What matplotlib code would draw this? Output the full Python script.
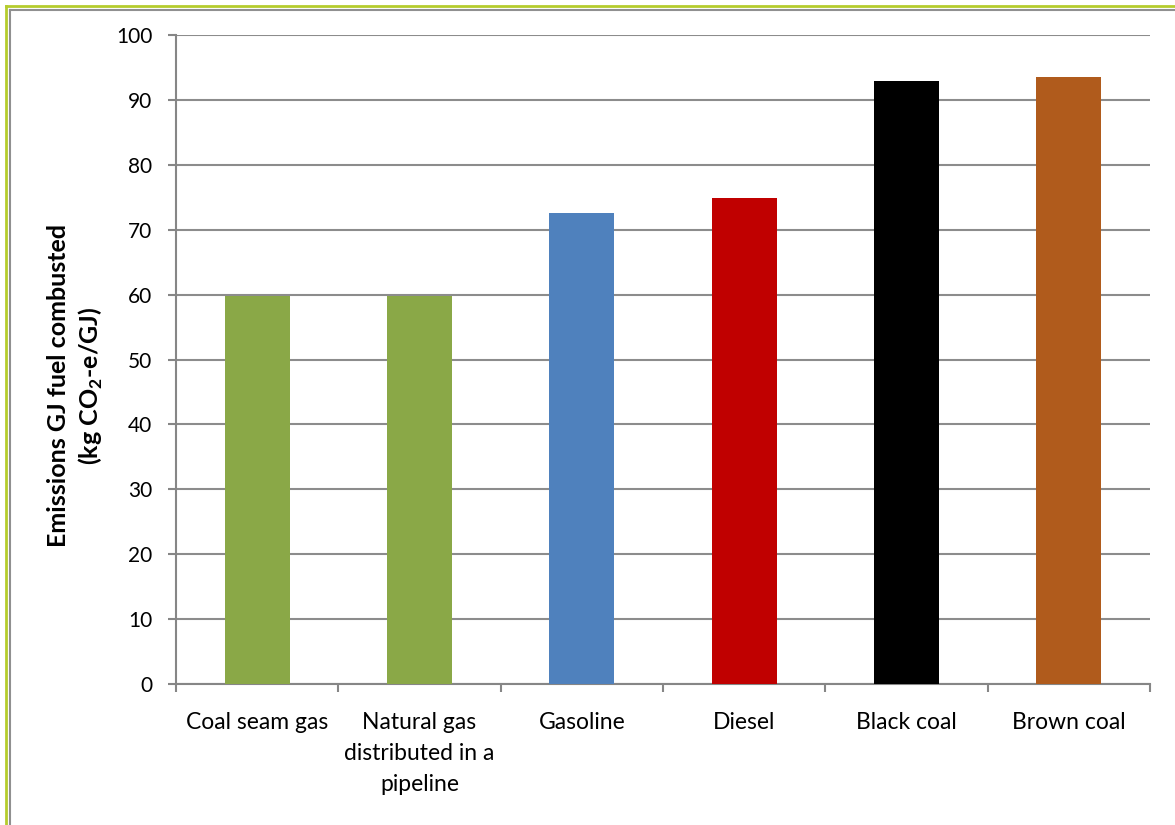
import matplotlib

matplotlib.use("Agg")
import matplotlib.pyplot as plt
from matplotlib.lines import Line2D
import numpy as np

# Emission factors per GJ of fuel combusted
fuels = [
    "Coal seam gas",
    "Natural gas\ndistributed in a\npipeline",
    "Gasoline",
    "Diesel",
    "Black coal",
    "Brown coal",
]
emissions = [59.8, 59.8, 72.6, 74.9, 92.9, 93.5]
bar_colors = ["#8aa847", "#8aa847", "#4f81bd", "#c00000", "#000000", "#b05b1c"]
y_ticks = list(range(0, 101, 10))

plt.rcParams["font.family"] = ["Lato", "DejaVu Sans"]
plt.rcParams["mathtext.fontset"] = "custom"
plt.rcParams["mathtext.rm"] = "Lato"
plt.rcParams["mathtext.bf"] = "Lato:bold"

fig = plt.figure(figsize=(11.75, 8.25), dpi=100)
W, H = 1175, 825
ax = fig.add_axes([176 / W, (H - 684) / H, (1150 - 176) / W, (684 - 35) / H])

x = np.arange(len(fuels))
ax.bar(x, emissions, width=0.4, color=bar_colors, zorder=3)

ax.set_xlim(-0.5, len(fuels) - 0.5)
ax.set_ylim(0, 100)
ax.set_yticks(y_ticks)
ax.yaxis.grid(True, color="#8c8c8c", linewidth=1.5, zorder=0)

# category labels sit between boundary ticks
ax.set_xticks(np.arange(len(fuels) + 1) - 0.5)
ax.set_xticklabels([])
ax.set_xticks(x, minor=True)
ax.set_xticklabels(fuels, minor=True, fontsize=16.5, linespacing=1.6, va="top")
ax.tick_params(axis="x", which="minor", length=0, pad=20)
ax.tick_params(axis="x", which="major", length=6, width=1.5, color="#868686")
ax.tick_params(axis="y", length=6, width=1.5, color="#868686", labelsize=15, pad=11)

for side in ("top", "right"):
    ax.spines[side].set_visible(False)
for side in ("left", "bottom"):
    ax.spines[side].set_color("#868686")
    ax.spines[side].set_linewidth(1.5)

ax.set_ylabel(
    "Emissions GJ fuel combusted\n(kg CO$_\\mathbf{2}$-e/GJ)",
    fontsize=18,
    fontweight="bold",
    linespacing=1.3,
    va="center",
)
ax.yaxis.set_label_coords(-0.103, 0.46)

# double frame around the chart area
fig.add_artist(Line2D([5.5 / W, 5.5 / W], [0, 1 - 5.5 / H], color="#b5cc2e", lw=2))
fig.add_artist(Line2D([5.5 / W, 1], [1 - 5.5 / H, 1 - 5.5 / H], color="#b5cc2e", lw=2))
fig.add_artist(Line2D([9.5 / W, 9.5 / W], [0, 1 - 9.5 / H], color="#909090", lw=1.5))
fig.add_artist(Line2D([9.5 / W, 1], [1 - 9.5 / H, 1 - 9.5 / H], color="#909090", lw=1.5))

fig.savefig("out.png", dpi=100, facecolor="white")
